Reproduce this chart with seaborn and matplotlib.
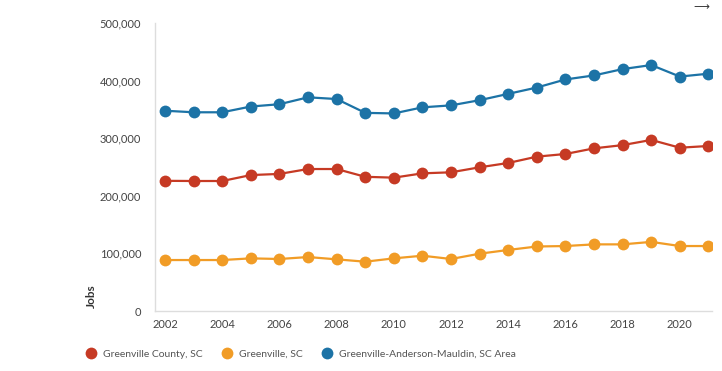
import matplotlib
matplotlib.use("Agg")
import matplotlib.pyplot as plt
import seaborn as sns
import pandas as pd
from matplotlib.lines import Line2D
from matplotlib.ticker import FuncFormatter

years = list(range(2002, 2022))
county = [226000, 225700, 225700, 236000, 238000, 246500, 246500, 233000, 231500, 239000,
          240800, 249500, 257000, 268000, 272600, 282400, 288000, 297000, 283500, 286500]
city = [88500, 88500, 88500, 91400, 90300, 93700, 89700, 85600, 91400, 96000,
        90300, 99500, 106000, 112000, 112800, 115700, 115700, 120000, 112800, 112800]
metro = [347700, 345000, 345000, 355000, 359000, 371000, 368000, 344000, 343000, 353600,
         357000, 366000, 377000, 388000, 402000, 409000, 420000, 427000, 407000, 412000]
series_names = ["Greenville County, SC", "Greenville, SC", "Greenville-Anderson-Mauldin, SC Area"]
colors = ["#c63a24", "#f19c26", "#1c73a6"]

df = pd.concat([
    pd.DataFrame({"Year": years, "Jobs": v, "Series": n})
    for v, n in zip([county, city, metro], series_names)
])

sns.set_style("white")
plt.rcParams["font.family"] = ["Lato", "DejaVu Sans"]

fig = plt.figure(figsize=(7.22, 3.71), dpi=100)
ax = fig.add_axes([0.2147, 0.1617, 0.986 - 0.2147, 0.938 - 0.1617])

sns.lineplot(data=df, x="Year", y="Jobs", hue="Series", palette=colors,
             marker="o", markersize=8.5, markeredgewidth=0, linewidth=1.6,
             ax=ax, legend=False)

ax.set_xlim(2001.65, 2021.12)
ax.set_ylim(0, 500000)
ax.set_xticks(range(2002, 2022, 2))
ax.set_yticks(range(0, 500001, 100000))
ax.yaxis.set_major_formatter(FuncFormatter(lambda v, p: f"{int(v):,}"))
for s in ["top", "right"]:
    ax.spines[s].set_visible(False)
for s in ["left", "bottom"]:
    ax.spines[s].set_color("#dddddd")
    ax.spines[s].set_linewidth(1)
ax.tick_params(axis="both", labelsize=8, colors="#444444", length=0, pad=6)
ax.tick_params(axis="y", length=3, color="#dddddd", pad=7)
ax.set_xlabel("")
ax.set_ylabel("Jobs", fontsize=8.5, fontweight="bold", color="#333333")
ax.yaxis.set_label_coords(-0.105, 0.05)

handles = [Line2D([], [], marker="o", linestyle="none", markersize=8.5,
                  markerfacecolor=c, markeredgewidth=0) for c in colors]
fig.legend(handles, series_names, loc="center left", bbox_to_anchor=(0.098, 0.046),
           ncol=3, frameon=False, fontsize=7.5, handletextpad=0.2, columnspacing=1.3,
           labelcolor="#555555")

fig.text(0.972, 0.995, "\u27f6", fontsize=8, color="#333333", ha="center", va="top",
         family=["DejaVu Sans"])

fig.savefig("out.png", dpi=100)
